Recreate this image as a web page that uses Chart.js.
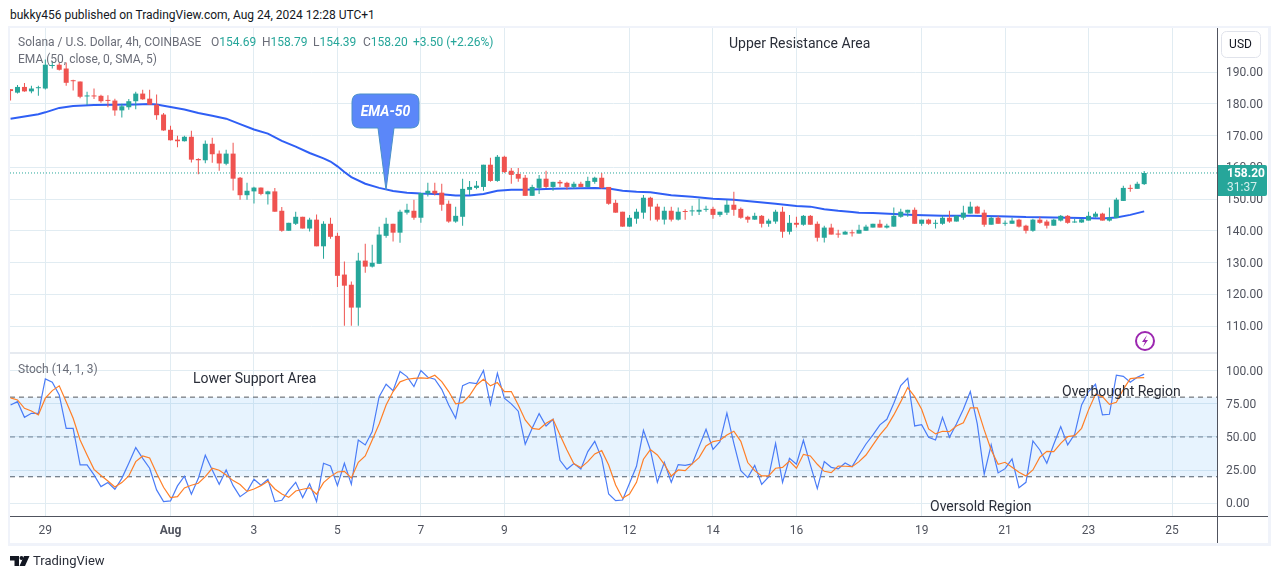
<!DOCTYPE html>
<html>
<head>
<meta charset="utf-8">
<title>Solana / U.S. Dollar</title>
<script src="https://cdn.jsdelivr.net/npm/chart.js@4"></script>
<style>
  html, body { margin: 0; padding: 0; background: #fff; }
  body { width: 1281px; height: 579px; position: relative; overflow: hidden;
         font-family: Roboto, sans-serif; font-size: 12px; color: #131722; }
  canvas { position: absolute; left: 10px; }
  #main  { top: 28px; }
  #stoch { top: 354px; }
  .t { position: absolute; white-space: nowrap; line-height: 16px; }
  .g { color: #6a6d78; }
  .v { color: #26a69a; }
  .note { font-size: 14px; color: #2a2e39; }
  .rule { position: absolute; background: #50535e; }
  .frame { position: absolute; background: #f0f3fa; }
  svg { position: absolute; left: 0; top: 0; }
</style>
</head>
<body>
<canvas id="main" width="1257" height="325"></canvas>
<canvas id="stoch" width="1257" height="189"></canvas>

<!-- outer frame and axis lines -->
<div class="frame" style="left:8px;top:26px;width:1263px;height:2px"></div>
<div class="frame" style="left:8px;top:543px;width:1263px;height:3px"></div>
<div class="frame" style="left:8px;top:26px;width:2px;height:520px"></div>
<div class="frame" style="left:1268px;top:26px;width:3px;height:520px"></div>
<div class="frame" style="left:10px;top:352px;width:1207px;height:2px;background:#e6eaf0"></div>
<div class="rule" style="left:1217px;top:352px;width:1px;height:2px"></div>
<div class="rule" style="left:1217px;top:516px;width:51px;height:1px"></div>
<div class="rule" style="left:1217px;top:516px;width:1px;height:27px"></div>

<div class="t" style="left:10px;top:7px">bukky456 published on TradingView.com, Aug 24, 2024 12:28 UTC+1</div>

<div class="t g" style="left:18px;top:34px">Solana / U.S. Dollar, 4h, COINBASE</div>
<div class="t g" style="left:211px;top:34px">O<span class="v">154.69</span></div>
<div class="t g" style="left:262px;top:34px">H<span class="v">158.79</span></div>
<div class="t g" style="left:313px;top:34px">L<span class="v">154.39</span></div>
<div class="t g" style="left:363px;top:34px">C<span class="v">158.20</span></div>
<div class="t v" style="left:413px;top:34px">+3.50 (+2.26%)</div>
<div class="t g" style="left:18px;top:51px">EMA (50, close, 0, SMA, 5)</div>
<div class="t g" style="left:18px;top:361px">Stoch (14, 1, 3)</div>

<div class="t note" style="left:729px;top:35px">Upper Resistance Area</div>
<div class="t note" style="left:193px;top:370px">Lower Support Area</div>
<div class="t note" style="left:1062px;top:383px">Overbought Region</div>
<div class="t note" style="left:930px;top:498px">Oversold Region</div>

<svg width="1281" height="579">
  <path d="M360 94 H411 Q419 94 419 102 V120 Q419 128 411 128 H394 L386 190 L378 128 H360 Q352 128 352 120 V102 Q352 94 360 94 Z"
        fill="#5b87f9" stroke="#4a90c8" stroke-width="1"/>
  <circle cx="1145" cy="341" r="9" fill="#fff" stroke="#9c27b0" stroke-width="2"/>
  <path d="M1147 335 L1142 342 H1145 L1143 347 L1148 340 H1145 Z" fill="#9c27b0"/>
  <rect x="1221.5" y="31.5" width="39" height="26" rx="5" fill="#fff" stroke="#e0e3eb"/>
  <path d="M10 556 H19 V566 H14.5 V560.5 H10 Z M24 556 H29.5 L25 566 H19.5 Z" fill="#131722"/>
  <circle cx="21.5" cy="558" r="2" fill="#131722"/>
</svg>
<div class="t" style="left:1221px;top:36px;width:39px;text-align:center;color:#131722">USD</div>
<div class="t" style="left:33px;top:553px;font-size:13px;color:#2a2e39">TradingView</div>
<div class="t" style="left:352px;top:103px;width:67px;text-align:center;color:#fff;font-weight:bold;font-style:italic;font-size:14px">EMA-50</div>

<!-- last price tag -->
<div style="position:absolute;left:1218px;top:165px;width:49px;height:31px;background:#26a69a;border-radius:0 2px 2px 0"></div>
<div class="t" style="left:1227px;top:165px;color:#fff;font-weight:bold">158.20</div>
<div class="t" style="left:1227px;top:179px;color:#d4efec">31:37</div>

<script>
// ── Candles, one entry per 4h bar, first bar sits 5 bars before "29" ──
const firstBar = -5;

const opens = [
  184.6,183.5,185.3,183.9,184.9,184.8,191.9,192.3,191.1,187.2,
  187.0,182.3,182.4,182.5,181.0,181.0,177.9,178.9,180.8,183.2,
  181.6,179.7,176.6,171.8,168.7,168.2,169.6,162.6,162.2,167.4,
  164.3,161.1,164.3,156.7,151.2,152.4,153.6,151.5,152.4,146.3,
  140.0,142.2,144.4,140.7,143.5,135.1,142.2,138.4,126.2,123.0,
  115.8,130.6,128.7,129.6,138.4,142.2,139.4,145.7,146.3,144.1,
  151.7,152.6,152.0,148.5,142.9,144.4,152.9,153.5,153.8,160.8,
  155.7,163.3,158.9,157.9,156.7,151.0,153.5,156.4,153.8,155.4,
  155.1,153.8,154.8,153.8,155.4,156.7,153.8,148.8,146.0,141.3,
  143.8,145.7,150.4,147.6,143.5,146.3,143.5,146.2,146.1,146.0,
  146.6,146.9,145.0,145.7,148.2,146.9,144.4,143.5,144.7,142.2,
  142.9,146.0,139.7,142.5,141.9,144.7,142.2,137.8,141.0,139.1,
  138.8,139.5,139.1,140.0,141.0,142.2,141.0,141.3,144.4,145.7,
  146.6,142.2,143.5,142.2,142.2,144.1,142.9,144.1,145.4,147.6,
  145.7,141.9,144.1,142.2,142.2,143.5,141.6,140.0,143.5,142.9,
  141.6,143.2,144.7,142.6,142.6,143.2,144.4,145.4,143.2,144.0,
  149.4,153.5,153.2,154.69
];

const highs = [
  184.6,185.9,186.5,185.7,185.7,193.9,193.4,192.8,193.0,187.6,
  187.0,183.8,184.8,182.8,182.7,181.6,180.0,181.5,183.8,184.4,
  184.4,182.9,177.1,173.1,169.9,169.9,171.5,162.8,168.4,169.3,
  165.3,165.5,167.7,156.9,155.1,153.9,153.6,152.6,153.5,147.5,
  142.5,146.0,144.4,144.1,145.1,143.0,144.1,139.4,130.3,124.0,
  133.1,135.9,135.6,141.3,144.1,142.2,146.6,148.5,149.8,151.9,
  155.1,155.1,154.8,149.5,147.6,156.4,155.7,155.7,160.8,163.0,
  163.9,163.6,159.8,159.8,157.6,154.5,157.6,158.9,155.4,156.0,
  155.4,155.4,155.4,157.0,157.0,158.2,153.8,149.8,146.0,145.0,
  146.9,151.3,150.7,148.5,147.6,147.6,147.3,146.8,147.9,150.1,
  147.9,147.6,146.0,149.8,152.3,147.3,144.7,145.7,145.0,143.8,
  146.6,147.6,145.0,144.4,145.0,145.0,142.9,141.6,142.2,140.3,
  140.0,140.3,141.9,141.9,142.2,143.5,142.2,147.3,146.9,146.6,
  147.3,143.5,143.8,143.5,144.7,146.3,145.0,147.9,149.1,147.9,
  146.6,144.4,144.7,143.2,144.1,143.8,141.9,143.8,144.4,143.5,
  143.8,145.0,145.0,143.8,143.8,146.0,146.0,145.7,147.3,150.4,
  154.2,154.5,155.4,158.79
];

const lows = [
  181.0,183.2,183.8,183.3,182.5,184.5,191.1,190.5,185.7,184.2,
  181.7,179.6,181.5,180.3,178.9,176.2,175.7,178.1,178.3,181.3,
  179.6,175.0,171.5,168.4,166.3,168.1,161.5,157.8,161.3,161.4,
  158.9,160.6,152.7,149.8,149.8,148.6,151.2,148.3,146.0,139.7,
  140.0,141.8,140.7,139.8,135.1,131.2,137.5,122.3,110.1,110.1,
  110.1,126.8,128.4,129.6,137.8,136.6,136.2,145.1,143.5,142.5,
  150.8,151.1,146.3,142.5,142.5,141.6,151.3,153.1,152.6,155.4,
  155.4,158.2,154.8,155.4,151.0,151.0,151.6,153.5,152.6,153.8,
  152.9,153.2,153.7,153.7,154.8,153.2,148.2,145.7,141.3,141.3,
  142.2,143.8,143.2,142.9,142.0,142.9,143.2,143.5,144.7,145.0,
  146.0,143.8,144.4,145.0,144.7,143.8,142.5,143.5,141.0,141.3,
  142.2,137.8,138.8,141.0,141.6,141.9,136.6,136.3,138.8,137.8,
  138.8,138.2,139.1,140.0,141.0,141.0,140.7,141.3,144.1,144.4,
  142.2,141.6,141.9,140.7,141.9,142.5,142.9,143.5,145.4,145.4,
  141.3,141.9,142.2,141.6,142.2,141.0,139.1,139.7,142.2,140.7,
  141.6,142.9,142.2,142.5,142.5,143.2,144.2,143.2,142.9,144.0,
  149.4,152.3,153.2,154.39
];

const closes = [
  184.0,185.3,183.9,184.8,185.1,192.3,192.1,190.7,186.6,187.1,
  182.2,182.5,182.3,180.8,180.9,177.9,179.2,180.8,183.2,181.4,
  179.7,176.4,171.6,168.5,168.2,169.6,162.4,162.2,167.4,164.1,
  161.2,164.3,156.4,151.2,152.6,153.6,151.6,152.4,146.0,140.0,
  142.5,144.4,140.7,143.5,135.1,142.2,138.1,125.8,122.7,115.8,
  130.6,128.7,129.9,138.8,142.2,139.4,146.0,146.6,144.1,151.9,
  152.6,151.7,148.2,142.9,144.7,153.2,153.8,154.2,160.8,155.7,
  163.3,158.5,157.6,156.4,151.0,153.8,156.4,153.8,155.4,154.9,
  153.8,154.8,153.8,155.7,156.7,153.5,148.5,145.7,141.3,144.1,
  146.0,150.4,147.6,143.5,146.3,143.5,146.0,145.9,146.4,146.6,
  146.9,145.0,146.0,148.2,146.6,144.1,143.5,144.7,142.2,143.2,
  146.0,139.7,142.5,141.9,144.7,141.9,137.8,141.0,138.8,138.8,
  139.7,139.2,140.3,141.3,142.2,141.0,141.6,144.7,146.0,146.6,
  142.2,143.5,142.2,142.5,144.1,142.9,144.7,145.7,147.6,145.4,
  141.9,144.1,142.2,142.5,143.2,141.3,140.0,143.5,142.5,141.6,
  143.5,144.7,142.5,142.9,143.6,144.7,145.4,143.2,144.1,149.8,
  153.5,153.2,154.8,158.2
];

// ── EMA 50, read at the bars listed in emaBars ──
const emaBars = [
  -5,-1,0,2,4,7,10,13,15,16,18,20,22,24,26,28,30,32,34,36,38,40,41,42,43,44,46,48,50,52,54,
  57,59,61,63,65,67,69,73,77,79,81,83,85,87,90,93,96,99,102,105,108,110,112,114,116,117,119,
  122,125,129,133,137,141,145,149,152,154,156,158
];
const emaValues = [
  175.3,176.7,177.3,178.7,179.3,179.6,179.7,179.8,179.9,179.8,179.0,178.2,177.1,176.2,175.3,
  173.6,171.9,170.6,168.3,166.5,164.5,162.8,161.8,160.3,158.5,156.9,154.8,153.5,152.5,152.0,151.7,
  151.5,151.1,151.1,151.6,152.6,152.9,152.9,153.2,153.4,153.5,153.3,152.6,152.3,152.1,151.2,150.7,
  150.1,149.8,149.1,148.5,147.8,147.6,146.8,146.3,145.9,145.7,145.6,
  145.3,145.0,144.7,144.7,144.6,144.3,144.2,144.0,143.9,144.2,145.0,146.1
];

// ── Stochastic, same bars as the candles ──
const stochK = [
  74.1,76.6,64.8,67.8,67.8,93.7,91.2,81.7,56.5,56.5,
  28.9,28.9,21.4,12.6,15.6,10.6,18.8,30.2,42.0,33.9,
  26.4,10.1,1.3,1.8,13.1,20.4,6.8,18.8,36.2,25.1,
  14.3,25.1,13.3,5.0,8.8,18.1,13.6,18.1,1.3,2.3,
  9.5,15.8,4.3,14.8,1.3,30.2,28.1,13.3,30.2,14.3,
  47.7,44.0,54.0,80.4,89.7,84.9,99.3,95.5,88.0,100,
  95.0,93.5,85.9,74.1,64.1,88.7,91.0,90.2,100,74.6,
  98.0,79.2,74.9,69.4,44.5,56.5,67.6,58.3,63.3,32.4,
  25.6,29.9,25.9,39.0,46.7,33.9,7.0,2.0,2.5,15.1,
  27.9,55.0,40.2,15.8,30.9,15.8,29.2,28.6,29.7,42.7,
  55.8,40.7,46.5,67.9,45.2,24.6,19.4,28.6,14.3,19.9,
  45.2,15.8,33.9,29.4,47.5,28.9,11.1,31.4,27.1,25.9,
  30.4,27.6,36.4,44.7,51.5,59.1,63.3,75.4,88.7,94.2,
  58.3,59.3,49.8,47.7,64.8,49.8,59.8,70.9,84.2,59.8,
  21.9,44.0,22.9,26.1,33.4,11.8,15.8,47.0,40.2,30.2,
  44.5,57.8,44.0,52.0,74.1,84.2,89.7,66.6,67.1,96.5,
  95.7,91.2,95.0,97.3
];
const stochD = [
  79.4,77.9,71.6,69.6,66.6,79.2,84.9,88.5,76.6,64.1,
  47.7,36.4,25.6,20.9,16.8,12.3,15.6,20.6,31.4,35.7,
  34.2,22.6,12.1,4.3,5.0,11.6,13.6,15.1,20.1,26.4,
  24.9,21.4,17.1,14.1,9.0,10.8,13.3,16.6,10.8,7.0,
  4.5,9.3,10.6,11.6,6.8,15.6,20.1,23.6,24.1,19.1,
  30.9,35.7,47.7,59.8,74.1,84.2,91.5,93.5,94.2,94.5,
  94.2,96.5,91.7,84.2,74.9,75.9,81.2,89.2,93.5,88.5,
  91.0,84.2,84.2,74.1,62.8,56.5,55.8,60.3,63.3,51.5,
  40.2,29.7,26.9,31.4,37.2,39.7,28.9,13.8,3.8,7.0,
  15.8,33.2,40.5,36.4,29.4,20.6,25.1,24.6,29.7,34.4,
  43.2,46.5,47.5,51.5,54.3,46.7,30.7,24.6,20.6,20.6,
  26.4,27.1,31.9,26.4,36.9,35.7,29.4,24.1,23.1,28.1,
  27.9,27.6,31.4,36.4,44.0,51.5,57.8,66.6,76.6,87.2,
  80.4,70.9,56.0,52.3,54.3,54.0,58.3,60.6,71.9,71.9,
  55.3,40.2,29.4,30.9,27.1,23.4,20.6,25.1,34.7,39.2,
  39.0,45.2,50.3,51.0,56.5,70.4,82.2,80.4,74.6,76.1,
  85.9,94.0,94.5,94.7
];

// ── Axes ──
const dayBars   = [0, 18, 30, 42, 54, 66, 84, 96, 108, 126, 138, 150, 162];
const dayLabels = ["29", "Aug", "3", "5", "7", "9", "12", "14", "16", "19", "21", "23", "25"];
const priceTicks = [190, 180, 170, 160, 150, 140, 130, 120, 110];
const stochTicks = [100, 75, 50, 25, 0];
const lastPrice = 158.2;
const stochUpper = 80;
const stochMiddle = 50;
const stochLower = 20;

const X_MIN = -5.08;
const X_MAX = 168.47;

const COR_ALTA  = "#26a69a";
const COR_BAIXA = "#ef5350";
const COR_GRADE = "#e1ecf2";
const COR_TEXTO = "#50535e";
const FONTE = { family: "Roboto, sans-serif", size: 12 };

const barIndex = opens.map((_, k) => k + firstBar);
const barColors = opens.map((o, k) => closes[k] >= o ? COR_ALTA : COR_BAIXA);

// Zera a margem automática que a escala pede para os rótulos
function semMargem(s) {
  s.paddingTop = 0;
  s.paddingBottom = 0;
  s.paddingLeft = 0;
  s.paddingRight = 0;
}

function xAxis(comRotulos) {
  return {
    type: "linear", min: X_MIN, max: X_MAX, offset: false,
    grid: { color: COR_GRADE, offset: false, drawTicks: false },
    border: { display: comRotulos, color: COR_TEXTO },
    ticks: {
      display: comRotulos, autoSkip: false, maxRotation: 0, padding: 8, color: COR_TEXTO,
      font: ctx => ({ ...FONTE, weight: ctx.tick && ctx.tick.label === "Aug" ? "bold" : "normal" }),
      callback: v => dayLabels[dayBars.indexOf(v)]
    },
    afterBuildTicks: s => { s.ticks = dayBars.map(v => ({ value: v })); },
    afterFit: s => { s.height = comRotulos ? 27 : 0; semMargem(s); }
  };
}

function yAxis(min, max, valores) {
  return {
    position: "right", min, max,
    grid: { color: COR_GRADE, drawTicks: false },
    border: { color: COR_TEXTO },
    ticks: { padding: 9, labelOffset: 1, color: COR_TEXTO, font: FONTE, callback: v => v.toFixed(2) },
    afterBuildTicks: s => { s.ticks = valores.map(v => ({ value: v })); },
    afterFit: s => { s.width = 50; semMargem(s); }
  };
}

const baseOptions = {
  responsive: false, animation: false,
  layout: { autoPadding: false, padding: 0 },
  plugins: { legend: { display: false }, tooltip: { enabled: false } }
};

function horizontal(valor) {
  return [{ x: X_MIN, y: valor }, { x: X_MAX, y: valor }];
}

// ── Price pane ──
new Chart(document.getElementById("main"), {
  type: "bar",
  data: {
    datasets: [
      {
        data: barIndex.map((x, k) => ({ x, y: [opens[k], closes[k]] })),
        backgroundColor: barColors, grouped: false, maxBarThickness: 5, minBarLength: 1, order: 1
      },
      {
        data: barIndex.map((x, k) => ({ x, y: [lows[k], highs[k]] })),
        backgroundColor: barColors, grouped: false, maxBarThickness: 1, order: 2
      },
      {
        type: "line", data: emaBars.map((x, k) => ({ x, y: emaValues[k] })),
        borderColor: "#2f5ff5", borderWidth: 2, pointRadius: 0, tension: 0, order: 3
      },
      {
        type: "line", data: horizontal(lastPrice),
        borderColor: COR_ALTA, borderWidth: 1, borderDash: [1, 2], pointRadius: 0, order: 4
      }
    ]
  },
  options: {
    ...baseOptions,
    scales: { x: xAxis(false), y: yAxis(101.5, 203.86, priceTicks) }
  }
});

// ── Stochastic pane ──
new Chart(document.getElementById("stoch"), {
  type: "line",
  data: {
    datasets: [
      {
        data: barIndex.map((x, k) => ({ x, y: stochD[k] })),
        borderColor: "#ff7f27", borderWidth: 1.2, pointRadius: 0, order: 1
      },
      {
        data: barIndex.map((x, k) => ({ x, y: stochK[k] })),
        borderColor: "#4a7cf7", borderWidth: 1.2, pointRadius: 0, order: 2
      },
      {
        data: horizontal(stochUpper), borderColor: "#55585f", borderWidth: 1, borderDash: [5, 4],
        pointRadius: 0, fill: { value: stochLower }, backgroundColor: "rgba(33,150,243,0.11)", order: 3
      },
      {
        data: horizontal(stochMiddle), borderColor: "#787b86", borderWidth: 1, borderDash: [5, 4],
        pointRadius: 0, order: 3
      },
      {
        data: horizontal(stochLower), borderColor: "#55585f", borderWidth: 1, borderDash: [5, 4],
        pointRadius: 0, order: 3
      }
    ]
  },
  options: {
    ...baseOptions,
    scales: { x: xAxis(true), y: yAxis(-9.57, 112.5, stochTicks) }
  }
});
</script>
</body>
</html>
